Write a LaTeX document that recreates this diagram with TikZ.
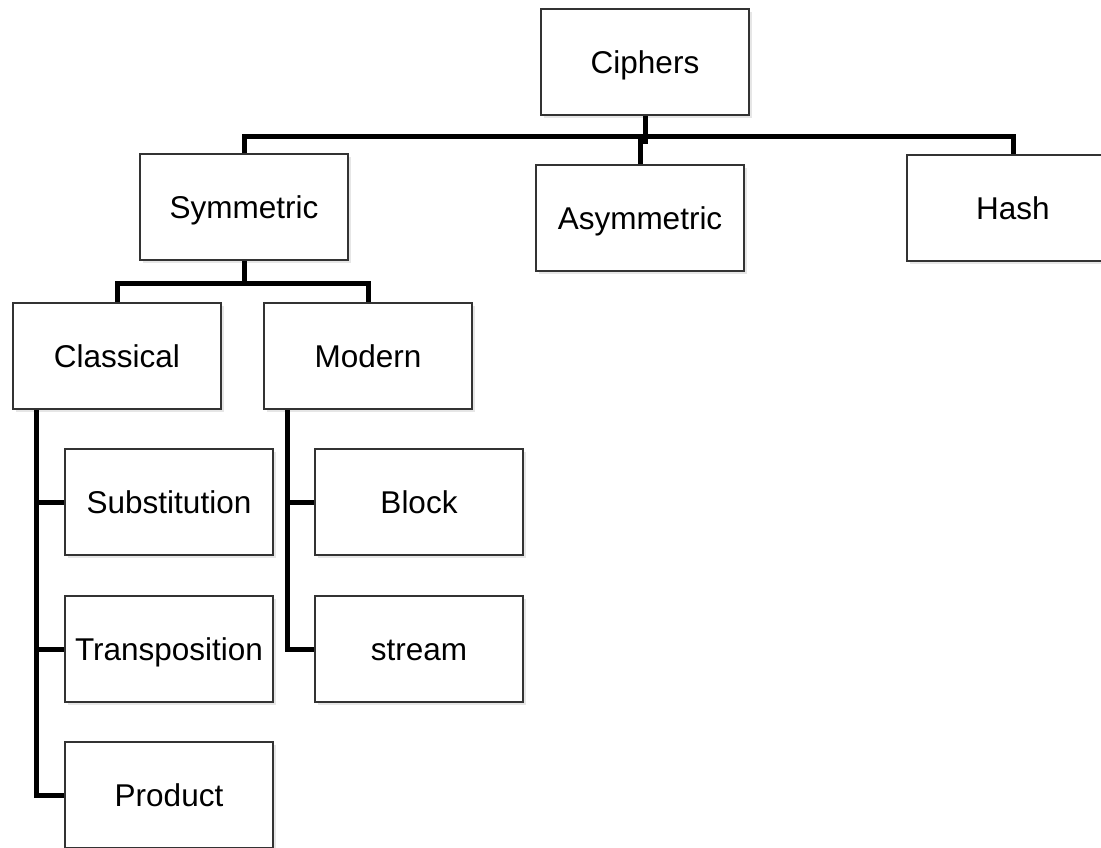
\documentclass[tikz,border=0pt]{standalone}
\usepackage{fontspec}
\setmainfont{Liberation Sans}
\usetikzlibrary{shadows}
\begin{document}
\begin{tikzpicture}[x=1pt,y=-1pt,
  box/.style={draw=black!80, line width=1.6pt, fill=white,
    minimum width=208pt, minimum height=106pt, inner sep=0pt,
    text height=22.6pt, text depth=0pt,
    font=\fontsize{31.5}{36}\selectfont,
    drop shadow={opacity=0.2, shadow xshift=3pt, shadow yshift=-3pt}},
  conn/.style={draw=black, line width=5pt}]
\useasboundingbox (0,0) rectangle (1101,848);
% top level
\node[box] (ciphers) at (645,62) {Ciphers};
\node[box] (sym) at (244,207) {Symmetric};
\node[box] (asym) at (640,218) {Asymmetric};
\node[box, minimum width=212pt] (hash) at (1013,208) {Hash};
% second level
\node[box] (classical) at (117,356) {Classical};
\node[box] (modern) at (368,356) {Modern};
% leaves
\node[box] (subst) at (169,502) {Substitution};
\node[box] (trans) at (169,649) {Transposition};
\node[box] (prod) at (169,795) {Product};
\node[box] (block) at (419,502) {Block};
\node[box] (stream) at (419,649) {stream};
% connectors
\draw[conn] (sym.north) -- ++(0,-17) -| (hash.north);
\draw[conn] (ciphers.south) -- ++(0,26) -| (asym.north);
\draw[conn] (sym.south) -- ++(0,23) -| (classical.north);
\draw[conn] (sym.south) ++(0,23) -| (modern.north);
\draw[conn] (classical.south -| 36,0) |- (prod.west);
\draw[conn] (subst.west) -- ++(-29,0);
\draw[conn] (trans.west) -- ++(-29,0);
\draw[conn] (modern.south -| 287,0) |- (stream.west);
\draw[conn] (block.west) -- ++(-28,0);
\end{tikzpicture}
\end{document}
